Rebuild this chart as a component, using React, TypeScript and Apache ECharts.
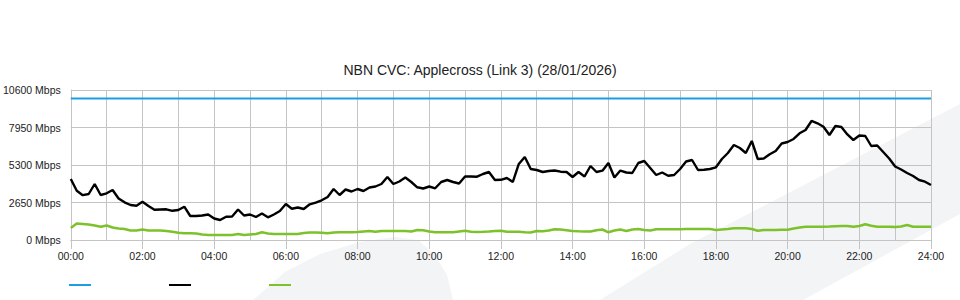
import React, { useEffect, useRef } from "react";
import * as echarts from "echarts";

const TITLE = "NBN CVC: Applecross (Link 3) (28/01/2026)";
const SERIES_NAMES = ["CVC Capacity", "Download", "Upload"];
const COLORS = ["#1a9fe3", "#000000", "#7dc12b"];

// 10-minute samples from 00:00 to 24:00
const TIMES: string[] = Array.from({ length: 145 }, (_, k) => {
  const m = k * 10;
  const h = Math.floor(m / 60);
  const mm = m % 60;
  return `${String(h).padStart(2, "0")}:${String(mm).padStart(2, "0")}`;
});

const CAPACITY_MBPS = 10000;

const DOWNLOAD = [
  4311, 3484, 3166, 3251, 3958, 3180, 3300, 3534, 2933, 2664,
  2473, 2424, 2707, 2403, 2134, 2155, 2170, 2064, 2120, 2353,
  1696, 1696, 1731, 1802, 1519, 1413, 1647, 1661, 2155, 1731,
  1802, 1625, 1873, 1604, 1802, 2049, 2544, 2205, 2297, 2191,
  2523, 2636, 2806, 3039, 3604, 3180, 3569, 3428, 3604, 3463,
  3710, 3781, 3958, 4452, 3958, 4134, 4417, 4099, 3724, 3640,
  3781, 3654, 4099, 4240, 4099, 3993, 4488, 4488, 4473, 4664,
  4806, 4240, 4254, 4382, 4099, 5371, 5866, 5018, 4947, 4806,
  4876, 4912, 4827, 4806, 4452, 4806, 4488, 5230, 4806, 4898,
  5442, 4417, 4905, 4770, 4735, 5442, 5583, 5088, 4594, 4770,
  4544, 4594, 5018, 5548, 5654, 4947, 4961, 5018, 5138, 5724,
  6148, 6714, 6501, 6148, 6996, 5724, 5760, 6056, 6290, 6820,
  6926, 7138, 7541, 7774, 8410, 8247, 8007, 7420, 8056, 7986,
  7456, 7067, 7385, 7350, 6643, 6678, 6219, 5760, 5194, 4982,
  4735, 4523, 4240, 4120, 3887,
];

const UPLOAD = [
  848, 1166, 1131, 1095, 1025, 940, 1025, 883, 813, 777,
  671, 671, 742, 671, 671, 671, 636, 587, 509, 473,
  473, 459, 389, 353, 353, 353, 353, 353, 424, 353,
  389, 424, 544, 459, 424, 424, 424, 424, 424, 495,
  530, 530, 516, 473, 530, 544, 544, 544, 565, 601,
  636, 580, 636, 636, 636, 636, 636, 601, 707, 686,
  601, 544, 544, 544, 544, 601, 657, 587, 565, 580,
  601, 636, 650, 587, 580, 580, 544, 530, 636, 615,
  671, 756, 742, 693, 636, 615, 601, 601, 686, 742,
  544, 671, 742, 636, 742, 777, 707, 671, 756, 756,
  756, 756, 756, 777, 777, 777, 777, 777, 707, 742,
  777, 827, 827, 827, 777, 657, 707, 707, 707, 721,
  721, 813, 883, 940, 940, 940, 940, 954, 975, 989,
  989, 933, 989, 1117, 1004, 940, 940, 940, 919, 954,
  1060, 933, 940, 940, 940,
];

const Y_TICKS = [0, 2650, 5300, 7950, 10600];

const FONT = "'Liberation Sans', Arial, Helvetica, sans-serif";
const GRID_COLOR = "#c4c4c4";
const WATERMARK = "#f3f4f6";

export default function App() {
  const ref = useRef<HTMLDivElement>(null);

  useEffect(() => {
    if (!ref.current) return;
    const chart = echarts.init(ref.current, undefined, { renderer: "svg" });
    const option: any = {
      animation: false,
      backgroundColor: "#ffffff",
      textStyle: { fontFamily: FONT },
      title: {
        text: TITLE,
        left: "center",
        top: 58,
        textStyle: { fontFamily: FONT, fontSize: 14, fontWeight: "normal", color: "#222222" },
      },
      graphic: {
        elements: [
          {
            type: "polygon",
            z: -10,
            silent: true,
            shape: {
              points: [
                [600, 300],
                [690, 244],
                [960, 104],
                [960, 214],
                [803, 300],
              ],
            },
            style: { fill: WATERMARK },
          },
          {
            type: "polygon",
            z: -10,
            silent: true,
            shape: {
              points: [
                [253, 300],
                [285, 272],
                [320, 254],
                [360, 242],
                [395, 237],
                [418, 240],
                [435, 255],
                [447, 275],
                [453, 300],
              ],
            },
            style: { fill: WATERMARK },
          },
        ],
      },
      legend: {
        left: 69,
        top: 284,
        padding: 0,
        icon: "rect",
        itemWidth: 22,
        itemHeight: 2,
        itemGap: 78,
        formatter: () => "",
        data: SERIES_NAMES,
        textStyle: { fontSize: 1 },
      },
      grid: { left: 70, right: 29, top: 90, bottom: 60, containLabel: false },
      xAxis: {
        type: "category",
        data: TIMES,
        boundaryGap: false,
        axisLine: { show: true, lineStyle: { color: GRID_COLOR, width: 1 } },
        axisTick: { show: true, interval: 11, length: 9, lineStyle: { color: GRID_COLOR } },
        axisLabel: {
          interval: 11,
          margin: 10,
          fontSize: 10.5,
          color: "#222222",
          fontFamily: FONT,
          showMaxLabel: true,
        },
        splitLine: { show: true, interval: 5, lineStyle: { color: GRID_COLOR, width: 1 } },
      },
      yAxis: {
        type: "value",
        min: Y_TICKS[0],
        max: Y_TICKS[Y_TICKS.length - 1],
        interval: Y_TICKS[1] - Y_TICKS[0],
        axisLine: { show: true, lineStyle: { color: GRID_COLOR } },
        axisTick: { show: false },
        axisLabel: {
          margin: 10,
          fontSize: 10.5,
          color: "#222222",
          fontFamily: FONT,
          padding: [0, 0, 8, 0],
          formatter: (v: number) => `${v} Mbps`,
        },
        splitLine: { show: true, lineStyle: { color: GRID_COLOR, width: 1 } },
      },
      series: [
        {
          name: SERIES_NAMES[0],
          type: "line",
          data: TIMES.map(() => CAPACITY_MBPS),
          showSymbol: false,
          lineStyle: { color: COLORS[0], width: 2 },
          itemStyle: { color: COLORS[0] },
          z: 3,
        },
        {
          name: SERIES_NAMES[1],
          type: "line",
          data: DOWNLOAD,
          showSymbol: false,
          lineStyle: { color: COLORS[1], width: 2.4 },
          itemStyle: { color: COLORS[1] },
          z: 4,
        },
        {
          name: SERIES_NAMES[2],
          type: "line",
          data: UPLOAD,
          showSymbol: false,
          lineStyle: { color: COLORS[2], width: 2.5 },
          itemStyle: { color: COLORS[2] },
          z: 3,
        },
      ],
    };
    chart.setOption(option);
    return () => chart.dispose();
  }, []);

  return (
    <div
      ref={ref}
      style={{ position: "fixed", left: 0, top: 0, width: 960, height: 300 }}
    />
  );
}
